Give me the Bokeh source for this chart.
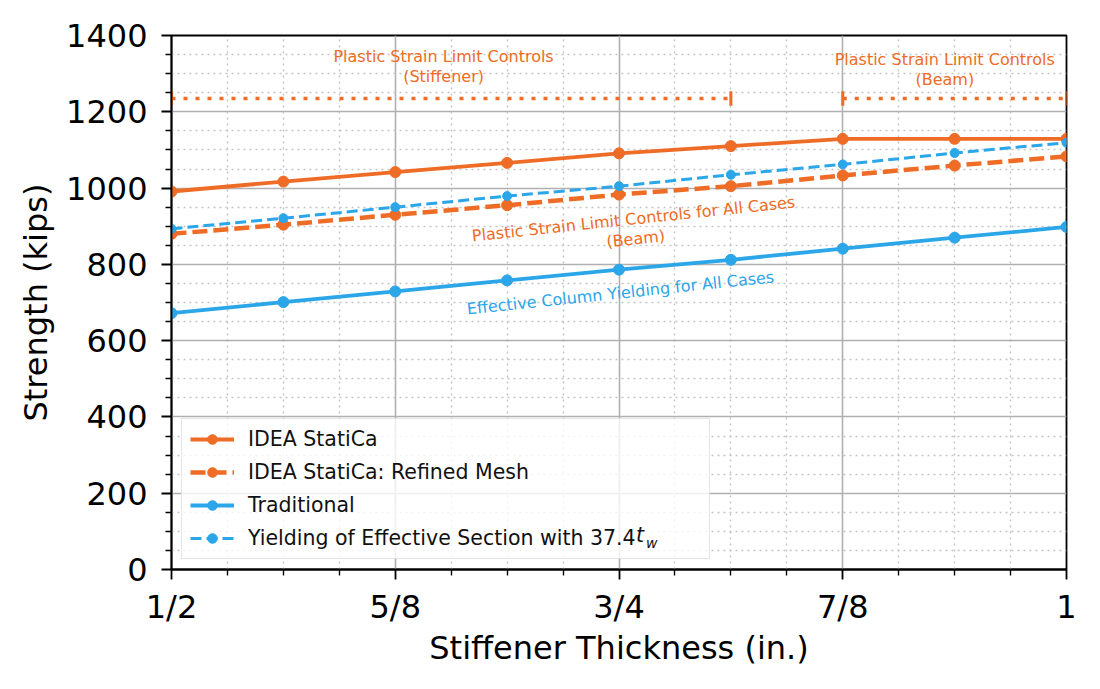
from bokeh.plotting import figure
from bokeh.models import Range1d, FixedTicker, Legend, LegendItem, ColumnDataSource
from bokeh.core.properties import value
from bokeh.embed import file_html
from bokeh.resources import INLINE

# ---------------- data ----------------
thickness = [0.5, 0.5625, 0.625, 0.6875, 0.75, 0.8125, 0.875, 0.9375, 1.0]
idea_statica = [991, 1017, 1042, 1066, 1091, 1110, 1129, 1129, 1129]
idea_refined = [880, 904, 930, 955, 983, 1005, 1033, 1059, 1083]
traditional = [672, 701, 729, 758, 786, 812, 841, 870, 898]
yield_effective = [893, 921, 950, 979, 1005, 1035, 1062, 1092, 1119]

x_major_ticks = [0.5, 0.625, 0.75, 0.875, 1.0]
x_tick_labels = ["1/2", "5/8", "3/4", "7/8", "1"]
x_minor_ticks = [0.53125, 0.5625, 0.59375, 0.65625, 0.6875, 0.71875,
                 0.78125, 0.8125, 0.84375, 0.90625, 0.9375, 0.96875]
y_major_ticks = [0, 200, 400, 600, 800, 1000, 1200, 1400]
y_minor_ticks = [50, 100, 150, 250, 300, 350, 450, 500, 550, 650, 700, 750,
                 850, 900, 950, 1050, 1100, 1150, 1250, 1300, 1350]

bracket_x0 = [0.5, 0.875]
bracket_x1 = [0.8125, 1.0]
bracket_y = [1235, 1235]
cap_x = [0.5, 0.8125, 0.875, 1.0]
cap_lo = [1216, 1216, 1216, 1216]
cap_hi = [1254, 1254, 1254, 1254]

ann_text = ["Plastic Strain Limit Controls\n(Stiffener)",
            "Plastic Strain Limit Controls\n(Beam)",
            "Plastic Strain Limit Controls for All Cases\n(Beam)",
            "Effective Column Yielding for All Cases"]
ann_x = [0.652, 0.932, 0.7587, 0.7508]
ann_y = [1318, 1311, 893, 725]
ann_angle = [0, 0, 6, 6]

legend_labels = ["IDEA StatiCa", "IDEA StatiCa: Refined Mesh", "Traditional",
                 "Yielding of Effective Section with 37.4          "]

ORANGE = "#EE6C25"
BLUE = "#2BA6E9"
ann_color = [ORANGE, ORANGE, ORANGE, BLUE]

FONT = "DejaVu Sans"

p = figure(width=1092, height=681, output_backend="svg", toolbar_location=None,
           x_range=Range1d(0.5, 1.0), y_range=Range1d(0, 1400),
           min_border_left=171, min_border_right=26, min_border_top=35, min_border_bottom=112)
p.background_fill_color = "white"
p.border_fill_color = "white"
p.outline_line_color = "black"
p.outline_line_width = 1.8

p.xaxis.ticker = FixedTicker(ticks=x_major_ticks, minor_ticks=x_minor_ticks)
p.xaxis.major_label_overrides = {t: l for t, l in zip(x_major_ticks, x_tick_labels)}
p.yaxis.ticker = FixedTicker(ticks=y_major_ticks, minor_ticks=y_minor_ticks)
p.xgrid.ticker = p.xaxis.ticker
p.ygrid.ticker = p.yaxis.ticker

for ax in (p.xaxis[0], p.yaxis[0]):
    ax.axis_line_color = "black"
    ax.axis_line_width = 1.8
    ax.major_tick_line_color = "black"
    ax.major_tick_line_width = 1.8
    ax.minor_tick_line_color = "black"
    ax.minor_tick_line_width = 1.4
    ax.major_tick_in = 0
    ax.major_tick_out = 10
    ax.minor_tick_in = 0
    ax.minor_tick_out = 6
    ax.major_label_text_font = FONT
    ax.major_label_text_font_size = "32px"
    ax.major_label_text_color = "black"
    ax.axis_label_text_font = FONT
    ax.axis_label_text_font_size = "32px"
    ax.axis_label_text_font_style = "normal"
    ax.axis_label_text_color = "black"

p.xaxis.axis_label = "Stiffener Thickness (in.)"
p.yaxis.axis_label = "Strength (kips)"
p.xaxis.major_label_standoff = 8
p.yaxis.major_label_standoff = 14
p.xaxis.axis_label_standoff = 0
p.yaxis.axis_label_standoff = 8

for g in (p.xgrid[0], p.ygrid[0]):
    g.grid_line_color = "#b0b0b0"
    g.grid_line_width = 1.6
    g.minor_grid_line_color = "#c4c4c4"
    g.minor_grid_line_width = 1.5
    g.minor_grid_line_dash = "2 4"

# brackets
p.segment(x0=bracket_x0, x1=bracket_x1, y0=bracket_y, y1=bracket_y,
          line_color=ORANGE, line_width=3.5, line_dash="4 8")
p.segment(x0=cap_x, x1=cap_x, y0=cap_lo, y1=cap_hi, line_color=ORANGE, line_width=3)

# series
l1 = p.line(thickness, idea_statica, line_color=ORANGE, line_width=3.8)
s1 = p.scatter(thickness, idea_statica, size=11, color=ORANGE)
l2 = p.line(thickness, idea_refined, line_color=ORANGE, line_width=4.5, line_dash="15 6")
s2 = p.scatter(thickness, idea_refined, size=11, color=ORANGE)
l3 = p.line(thickness, traditional, line_color=BLUE, line_width=3.8)
s3 = p.scatter(thickness, traditional, size=11, color=BLUE)
l4 = p.line(thickness, yield_effective, line_color=BLUE, line_width=3, line_dash="11 5")
s4 = p.scatter(thickness, yield_effective, size=9, color=BLUE)

# annotations
src = ColumnDataSource(dict(x=ann_x, y=ann_y, text=ann_text, angle=ann_angle, color=ann_color))
p.text(x="x", y="y", text="text", angle="angle", angle_units="deg", text_color="color",
       source=src, text_font=value(FONT), text_font_size="16px",
       text_align="center", text_baseline="middle", text_line_height=1.05)

legend = Legend(items=[
    LegendItem(label=legend_labels[0], renderers=[l1, s1]),
    LegendItem(label=legend_labels[1], renderers=[l2, s2]),
    LegendItem(label=legend_labels[2], renderers=[l3, s3]),
    LegendItem(label=legend_labels[3], renderers=[l4, s4]),
], location="bottom_left")
legend.label_text_font = FONT
legend.label_text_font_size = "20.5px"
legend.label_text_color = "#111111"
legend.glyph_width = 44
legend.glyph_height = 24
legend.label_height = 24
legend.label_standoff = 14
legend.spacing = 9
legend.padding = 8
legend.margin = 10
legend.border_line_color = "#cccccc"
legend.border_line_width = 1.5
legend.background_fill_alpha = 0.8
p.add_layout(legend)

# italic t with subscript w after "37.4" (drawn as two tiny transparent legends on top)
blank = p.scatter(x=[], y=[], size=0, fill_alpha=0, line_alpha=0)


def sub_legend(text, size, loc, h):
    lg = Legend(items=[LegendItem(label=text, renderers=[blank])], location=loc)
    lg.label_text_font = FONT
    lg.label_text_font_size = size
    lg.label_text_font_style = "italic"
    lg.label_text_color = "#111111"
    lg.glyph_width = 0
    lg.glyph_height = h
    lg.label_height = h
    lg.label_standoff = 0
    lg.padding = 0
    lg.margin = 0
    lg.spacing = 0
    lg.border_line_alpha = 0
    lg.background_fill_alpha = 0
    p.add_layout(lg)


sub_legend("t", "20.5px", (465, 22), 20)
sub_legend("w", "14px", (475, 18), 14)

open("out.html", "w").write(file_html(p, INLINE))
